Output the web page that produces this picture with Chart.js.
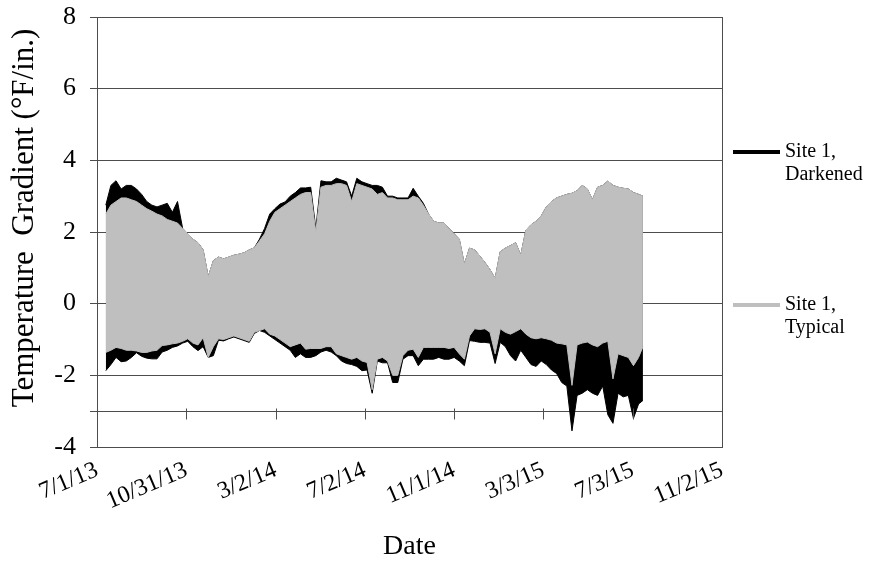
<!DOCTYPE html>
<html>
<head>
<meta charset="utf-8">
<title>Temperature Gradient - Site 1</title>
<script src="https://cdn.jsdelivr.net/npm/chart.js@4.4.1/dist/chart.umd.min.js"></script>
<style>
    html, body { margin: 0; padding: 0; background: #fff; }
    #wrap { width: 875px; height: 565px; }
</style>
</head>
<body>
<div id="wrap"><canvas id="gradientChart" width="875" height="565"></canvas></div>
<script>
// days counted from 7/1/13, one sample per week (upper / lower envelope of the daily swing)
const days = [
    12, 19, 26, 33, 40, 47, 54, 61, 68, 75, 82, 89, 96, 103, 110, 117, 124, 131, 138, 145,
    152, 159, 166, 173, 180, 187, 194, 201, 208, 215, 222, 229, 236, 243, 250, 257, 264, 271, 278, 285,
    292, 299, 306, 313, 320, 327, 334, 341, 348, 355, 362, 369, 376, 383, 390, 397, 404, 411, 418, 425,
    432, 439, 446, 453, 460, 467, 474, 481, 488, 495, 502, 509, 516, 523, 530, 537, 544, 551, 558, 565,
    572, 579, 586, 593, 600, 607, 614, 621, 628, 635, 642, 649, 656, 663, 670, 677, 684, 691, 698, 705,
    712, 719, 726, 733, 740, 746
];

const typicalHigh = [
    2.5, 2.75, 2.85, 2.95, 2.95, 2.9, 2.85, 2.75, 2.65, 2.58, 2.5, 2.45, 2.35, 2.3, 2.25, 2.1, 1.95, 1.8, 1.7, 1.5,
    0.75, 1.2, 1.3, 1.25, 1.3, 1.35, 1.38, 1.42, 1.5, 1.56, 1.75, 1.95, 2.3, 2.55, 2.65, 2.75, 2.85, 2.95, 3.05, 3.1,
    3.1, 2.0, 3.25, 3.3, 3.3, 3.35, 3.35, 3.3, 2.85, 3.35, 3.3, 3.25, 3.2, 3.05, 3.1, 2.95, 2.95, 2.9, 2.9, 2.9,
    3.0, 2.95, 2.75, 2.5, 2.3, 2.25, 2.25, 2.1, 1.95, 1.8, 1.1, 1.55, 1.5, 1.33, 1.15, 0.95, 0.7, 1.45, 1.55, 1.62,
    1.7, 1.35, 2.05, 2.2, 2.3, 2.45, 2.7, 2.85, 2.95, 3.0, 3.05, 3.08, 3.15, 3.3, 3.2, 2.9, 3.25, 3.3, 3.42, 3.3,
    3.25, 3.22, 3.2, 3.1, 3.05, 3.0
];

const typicalLow = [
    -1.36, -1.3, -1.22, -1.25, -1.3, -1.3, -1.32, -1.36, -1.36, -1.32, -1.3, -1.17, -1.15, -1.12, -1.1, -1.05, -0.98, -1.1, -1.15, -0.95,
    -1.5, -1.2, -0.98, -1.0, -0.95, -0.9, -0.95, -1.0, -1.05, -0.8, -0.75, -0.7, -0.85, -0.9, -1.0, -1.1, -1.2, -1.15, -1.1, -1.27,
    -1.25, -1.25, -1.25, -1.2, -1.2, -1.4, -1.45, -1.5, -1.55, -1.5, -1.6, -1.64, -2.4, -1.55, -1.5, -1.6, -2.0, -2.0, -1.45, -1.3,
    -1.27, -1.5, -1.22, -1.22, -1.22, -1.22, -1.22, -1.25, -1.22, -1.4, -1.55, -0.9, -0.7, -0.72, -0.7, -0.8, -1.4, -0.7, -0.8, -0.85,
    -0.78, -0.7, -0.85, -0.95, -0.98, -0.95, -0.98, -1.02, -1.1, -1.12, -1.15, -2.28, -1.15, -1.1, -1.07, -1.15, -1.2, -1.1, -1.05, -2.1,
    -1.4, -1.45, -1.5, -1.73, -1.5, -1.2
];

const darkenedHigh = [
    2.75, 3.3, 3.43, 3.2, 3.3, 3.3, 3.2, 3.05, 2.85, 2.75, 2.7, 2.75, 2.8, 2.55, 2.85, 2.1, 1.95, 1.8, 1.7, 1.5,
    0.75, 1.2, 1.3, 1.25, 1.3, 1.35, 1.38, 1.42, 1.5, 1.56, 1.8, 2.1, 2.5, 2.65, 2.78, 2.84, 3.0, 3.1, 3.23, 3.23,
    3.25, 2.1, 3.43, 3.4, 3.4, 3.5, 3.45, 3.4, 3.0, 3.5, 3.4, 3.35, 3.3, 3.3, 3.25, 3.0, 3.0, 2.95, 2.95, 2.95,
    3.22, 3.0, 2.8, 2.5, 2.3, 2.25, 2.25, 2.1, 1.95, 1.8, 1.1, 1.55, 1.5, 1.33, 1.15, 0.95, 0.7, 1.45, 1.55, 1.62,
    1.7, 1.35, 2.05, 2.2, 2.3, 2.45, 2.7, 2.85, 2.95, 3.0, 3.05, 3.08, 3.15, 3.3, 3.2, 2.9, 3.25, 3.3, 3.42, 3.3,
    3.25, 3.22, 3.2, 3.1, 3.05, 3.0
];

const darkenedLow = [
    -1.87, -1.7, -1.5, -1.62, -1.6, -1.5, -1.37, -1.47, -1.52, -1.54, -1.54, -1.35, -1.3, -1.22, -1.18, -1.1, -1.05, -1.2, -1.31, -1.2,
    -1.5, -1.45, -1.02, -1.04, -0.98, -0.93, -0.98, -1.03, -1.08, -0.83, -0.75, -0.8, -0.9, -1.0, -1.1, -1.2, -1.3, -1.5, -1.4, -1.5,
    -1.5, -1.45, -1.35, -1.3, -1.35, -1.45, -1.6, -1.67, -1.7, -1.75, -1.87, -1.85, -2.5, -1.6, -1.65, -1.65, -2.2, -2.2, -1.55, -1.45,
    -1.45, -1.73, -1.55, -1.55, -1.55, -1.5, -1.55, -1.55, -1.5, -1.6, -1.73, -1.03, -1.05, -1.08, -1.08, -1.1, -1.67, -1.08, -1.2, -1.45,
    -1.6, -1.3, -1.5, -1.7, -1.75, -1.6, -1.7, -1.85, -1.95, -2.2, -2.3, -3.55, -2.56, -2.5, -2.4, -2.5, -2.56, -2.3, -3.1, -3.34,
    -2.5, -2.6, -2.56, -3.2, -2.8, -2.7
];

const seriesNames = ['Site 1, Darkened', 'Site 1, Typical'];
const seriesColors = ['#000000', '#bfbfbf'];

const xTickDays = [0, 122, 244, 366, 488, 610, 732, 854];
const xTickLabels = ['7/1/13', '10/31/13', '3/2/14', '7/2/14', '11/1/14', '3/3/15', '7/3/15', '11/2/15'];
const yTicks = [-4, -3, -2, 0, 2, 4, 6, 8];
const yTickLabels = ['-4', '', '-2', '0', '2', '4', '6', '8'];

const FONT = "'Liberation Serif', 'Times New Roman', serif";
const LINE = '#4d4d4d';

const toPoints = (vals) => vals.map((v, i) => ({ x: days[i], y: v }));

// box, y=-3 axis tick marks, y title and side legend
const decorPlugin = {
    id: 'decor',
    afterDraw(chart) {
        const { ctx, chartArea, scales } = chart;
        ctx.save();
        ctx.strokeStyle = LINE;
        ctx.lineWidth = 1;

        ctx.beginPath();
        ctx.moveTo(Math.round(chartArea.right) + 0.5, chartArea.top);
        ctx.lineTo(Math.round(chartArea.right) + 0.5, chartArea.bottom);
        ctx.stroke();

        const yAxis = Math.round(scales.y.getPixelForValue(-3)) + 0.5;
        ctx.beginPath();
        xTickDays.forEach((d) => {
            const px = Math.round(scales.x.getPixelForValue(d)) + 0.5;
            ctx.moveTo(px, yAxis - 3);
            ctx.lineTo(px, yAxis + 8);
        });
        ctx.stroke();

        ctx.fillStyle = '#000';
        ctx.font = '31px ' + FONT;
        ctx.translate(33, 218);
        ctx.rotate(-Math.PI / 2);
        ctx.textAlign = 'center';
        ctx.textBaseline = 'alphabetic';
        ctx.fillText('Temperature  Gradient (°F/in.)', 0, 0);
        ctx.restore();

        ctx.save();
        ctx.font = '20px ' + FONT;
        ctx.fillStyle = '#000';
        ctx.textBaseline = 'middle';
        const legendY = [152, 305];
        seriesNames.forEach((name, i) => {
            const y = legendY[i];
            ctx.strokeStyle = seriesColors[i];
            ctx.lineWidth = 4;
            ctx.beginPath();
            ctx.moveTo(733, y);
            ctx.lineTo(780, y);
            ctx.stroke();
            const parts = name.split(', ');
            ctx.fillText(parts[0] + ',', 785, y);
            ctx.fillText(parts[1], 785, y + 23);
        });
        ctx.restore();
    }
};

const ctx = document.getElementById('gradientChart').getContext('2d');

new Chart(ctx, {
    type: 'line',
    data: {
        datasets: [
            {
                label: seriesNames[0],
                data: toPoints(darkenedHigh),
                borderColor: seriesColors[0],
                backgroundColor: seriesColors[0],
                borderWidth: 1,
                pointRadius: 0,
                fill: '+1',
                order: 2
            },
            {
                label: seriesNames[0],
                data: toPoints(darkenedLow),
                borderColor: seriesColors[0],
                borderWidth: 1,
                pointRadius: 0,
                fill: false,
                order: 2
            },
            {
                label: seriesNames[1],
                data: toPoints(typicalHigh),
                borderColor: seriesColors[1],
                backgroundColor: seriesColors[1],
                borderWidth: 1,
                pointRadius: 0,
                fill: '+1',
                order: 1
            },
            {
                label: seriesNames[1],
                data: toPoints(typicalLow),
                borderColor: seriesColors[1],
                borderWidth: 1,
                pointRadius: 0,
                fill: false,
                order: 1
            }
        ]
    },
    options: {
        responsive: false,
        animation: false,
        layout: { padding: { top: 17, right: 153, left: 0, bottom: 0 } },
        plugins: {
            legend: { display: false },
            tooltip: { enabled: false }
        },
        scales: {
            x: {
                type: 'linear',
                min: 0,
                max: 854,
                afterBuildTicks: (s) => { s.ticks = xTickDays.map((v) => ({ value: v })); },
                afterFit: (s) => { s.height = 118; },
                ticks: {
                    autoSkip: false,
                    minRotation: 23,
                    maxRotation: 23,
                    padding: 9,
                    color: '#000',
                    font: { family: FONT, size: 24 },
                    callback: (v, i) => xTickLabels[i]
                },
                grid: { display: false, drawTicks: false },
                border: { display: true, color: LINE, width: 1 },
                title: {
                    display: true,
                    text: 'Date',
                    color: '#000',
                    font: { family: FONT, size: 28 },
                    padding: { top: 0, bottom: 2 }
                }
            },
            y: {
                type: 'linear',
                min: -4,
                max: 8,
                afterBuildTicks: (s) => { s.ticks = yTicks.map((v) => ({ value: v })); },
                afterFit: (s) => {
                    s.width = 97;
                    s.paddingTop = 0;
                    s.paddingBottom = 0;
                },
                ticks: {
                    padding: 14,
                    color: '#000',
                    font: { family: FONT, size: 26 },
                    callback: (v, i) => yTickLabels[i]
                },
                grid: { color: LINE, lineWidth: 1, drawTicks: true, tickLength: 7, tickColor: LINE },
                border: { display: true, color: LINE, width: 1 }
            }
        }
    },
    plugins: [decorPlugin]
});
</script>
</body>
</html>
